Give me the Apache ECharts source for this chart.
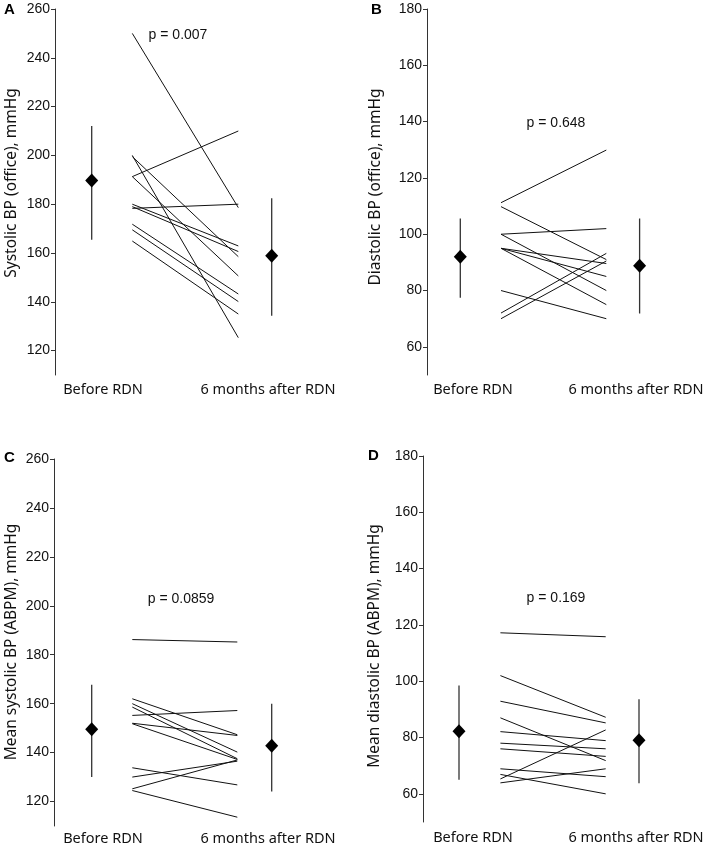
<!DOCTYPE html>
<html>
<head>
<meta charset="utf-8">
<script src="https://cdn.jsdelivr.net/npm/echarts@6/dist/echarts.min.js"></script>
<style>
html,body{margin:0;padding:0;background:#fff;}
#chart{width:707px;height:849px;}
</style>
</head>
<body>
<div id="chart"></div>
<script>
// ---- data ----
const categories = ['Before RDN', '6 months after RDN'];
const panelLetters = ['A', 'B', 'C', 'D'];
const axisTitles = ['Systolic BP (office), mmHg', 'Diastolic BP (office), mmHg',
                    'Mean systolic BP (ABPM), mmHg', 'Mean diastolic BP (ABPM), mmHg'];
const pValues = ['p = 0.007', 'p = 0.648', 'p = 0.0859', 'p = 0.169'];
const systolicTicks = [120, 140, 160, 180, 200, 220, 240, 260];
const diastolicTicks = [60, 80, 100, 120, 140, 160, 180];

// A: office systolic (before -> after, per patient)
const A_before = [250, 200, 199.5, 191.3, 191.3, 178.3, 180, 179, 171.8, 169.5, 164.9];
const A_after  = [178.6, 125.3, 158.5, 210, 150.6, 180, 162.9, 160.6, 143.2, 140.1, 135.0];
// summary: [mean, lower, upper]
const A_sumBefore = [189.7, 165.4, 212.1];
const A_sumAfter  = [158.9, 134.3, 182.4];

// B: office diastolic
const B_before = [111.2, 109.8, 100, 100, 95, 95, 95, 80, 72, 70];
const B_after  = [129.9, 91, 102, 80, 89.6, 85, 75, 70, 93.2, 90.5];
const B_sumBefore = [92, 77.4, 105.6];
const B_sumAfter  = [88.8, 71.8, 105.6];

// C: ABPM mean systolic
const C_before = [186.2, 162, 160, 158.6, 155.2, 152, 151.8, 133.8, 130, 125.2, 124.5];
const C_after  = [185.2, 147.3, 140.2, 137.5, 157.2, 147, 137.2, 126.8, 136.5, 137, 113.6];
const C_sumBefore = [149.5, 130, 167.7];
const C_sumAfter  = [142.8, 124.1, 160];

// D: ABPM mean diastolic
const D_before = [117.2, 102, 92.9, 87, 82.1, 78, 76, 68.9, 66.9, 65.3, 63.9];
const D_after  = [115.8, 87.2, 85.2, 71.8, 78.9, 76, 73.3, 66.1, 60, 82.7, 68.9];
const D_sumBefore = [82.2, 65, 98.5];
const D_sumAfter  = [79, 63.8, 93.6];

// ---- layout (pixels) ----
const layout = [
  {left: 55, top: 9, height: 366, width: 285, min: 110, max: 260, ticks: systolicTicks,
   x: [36.7, 77.3, 183.3, 216.7], letter: [10, 10], title: [12, 183], p: [178, 35], cat: [[103, 390], [268, 390]]},
  {left: 427, top: 9, height: 366, width: 275, min: 50, max: 180, ticks: diastolicTicks,
   x: [33.3, 74, 179.3, 212.6], letter: [377, 10], title: [376, 187], p: [556, 123], cat: [[473, 390], [636, 390]]},
  {left: 54, top: 459, height: 367, width: 285, min: 110, max: 260, ticks: systolicTicks,
   x: [37.7, 78.3, 183.3, 217.7], letter: [10, 458], title: [12, 642], p: [181, 599], cat: [[103, 839], [268, 839]]},
  {left: 423, top: 456, height: 366, width: 280, min: 50, max: 180, ticks: diastolicTicks,
   x: [36, 77.4, 182.7, 216], letter: [374, 456], title: [375, 646], p: [556, 598], cat: [[473, 838], [636, 838]]}
];
const panels = [
  [A_before, A_after, A_sumBefore, A_sumAfter],
  [B_before, B_after, B_sumBefore, B_sumAfter],
  [C_before, C_after, C_sumBefore, C_sumAfter],
  [D_before, D_after, D_sumBefore, D_sumAfter]
];

const ink = '#111';
const grid = [], xAxis = [], yAxis = [], series = [], graphic = [];

layout.forEach((L, i) => {
  grid.push({left: L.left, top: L.top, width: L.width, height: L.height, containLabel: false});
  xAxis.push({type: 'value', gridIndex: i, min: 0, max: L.width, show: false});
  yAxis.push({
    type: 'value', gridIndex: i, min: L.min, max: L.max,
    axisLine: {show: true, lineStyle: {color: '#333', width: 1}},
    axisTick: {show: true, inside: false, length: 4, customValues: L.ticks, lineStyle: {color: '#333'}},
    axisLabel: {customValues: L.ticks, fontFamily: 'Liberation Sans', fontSize: 14, color: ink, margin: 5},
    splitLine: {show: false}
  });
  const [before, after, sb, sa] = panels[i];
  before.forEach((b, k) => {
    series.push({
      type: 'line', xAxisIndex: i, yAxisIndex: i, symbol: 'none', silent: true, animation: false,
      lineStyle: {color: ink, width: 1},
      data: [[L.x[1], b], [L.x[2], after[k]]]
    });
  });
  // error bars
  [[L.x[0], sb], [L.x[3], sa]].forEach(([xv, s]) => {
    series.push({
      type: 'line', xAxisIndex: i, yAxisIndex: i, symbol: 'none', silent: true, animation: false,
      lineStyle: {color: '#333', width: 1.3},
      data: [[xv, s[1]], [xv, s[2]]]
    });
  });
  series.push({
    type: 'scatter', xAxisIndex: i, yAxisIndex: i, symbol: 'diamond', symbolSize: [13, 14],
    silent: true, animation: false, itemStyle: {color: '#000', opacity: 1}, z: 5,
    data: [[L.x[0], sb[0]], [L.x[3], sa[0]]]
  });
  graphic.push({type: 'text', left: L.letter[0] - 6, top: L.letter[1] - 8,
    style: {text: panelLetters[i], font: 'bold 15px "Liberation Sans"', fill: '#000'}});
  graphic.push({type: 'text', x: L.title[0], y: L.title[1], rotation: Math.PI / 2,
    style: {text: axisTitles[i], font: '15.5px "Noto Sans"', fill: ink, align: 'center', verticalAlign: 'middle'}});
  graphic.push({type: 'text', x: L.p[0], y: L.p[1],
    style: {text: pValues[i], font: '14px "Liberation Sans"', fill: ink, align: 'center', verticalAlign: 'middle'}});
  categories.forEach((c, j) => {
    graphic.push({type: 'text', x: L.cat[j][0], y: L.cat[j][1],
      style: {text: c, font: '14.5px "Noto Sans"', fill: ink, align: 'center', verticalAlign: 'middle'}});
  });
});

const chart = echarts.init(document.getElementById('chart'), null, {renderer: 'canvas'});
chart.setOption({animation: false, backgroundColor: '#fff', grid, xAxis, yAxis, series, graphic});
</script>
</body>
</html>
